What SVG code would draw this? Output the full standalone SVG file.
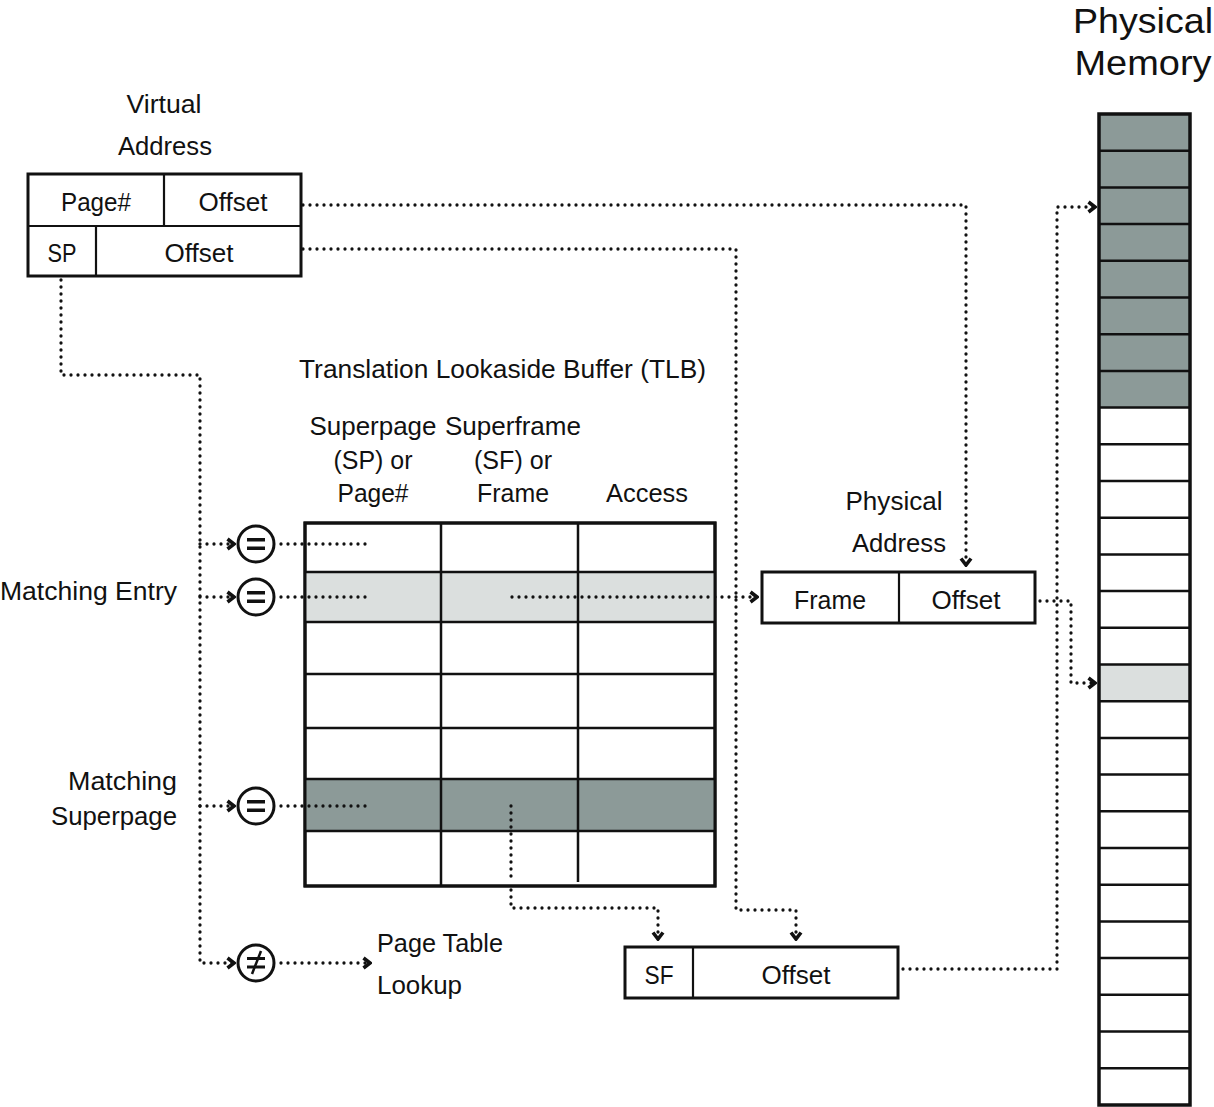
<svg xmlns="http://www.w3.org/2000/svg" width="1214" height="1107" viewBox="0 0 1214 1107">
<style>
text{font-family:"Liberation Sans Narrow","Liberation Sans",Arial,sans-serif;font-size:26px;fill:#111}
.big{font-family:"Liberation Sans",Arial,sans-serif;font-size:35px}
.box{fill:#fff;stroke:#111;stroke-width:3}
.div{stroke:#111;stroke-width:2.2;fill:none}
.dot{fill:none;stroke:#111;stroke-width:3.3;stroke-dasharray:0 7;stroke-linecap:round;stroke-linejoin:round}
.circ{fill:#fff;stroke:#111;stroke-width:3}
.bar{fill:#111}
</style>
<defs>
<marker id="ah" viewBox="-10 -8 12 16" refX="0" refY="0" markerWidth="12" markerHeight="16" markerUnits="userSpaceOnUse" orient="auto">
<path d="M-6.5,-5 L0,0 L-6.5,5" fill="none" stroke="#111" stroke-width="3.6"/>
</marker>
</defs>
<rect width="1214" height="1107" fill="#fff"/>

<g id="connectors">
<path class="dot" d="M303,205 H966 V565" marker-end="url(#ah)"/>
<path class="dot" d="M303,249 H736 V910 H796 V939" marker-end="url(#ah)"/>
<path class="dot" d="M61,280 V375 H200 V963 H234" marker-end="url(#ah)"/>
<path class="dot" d="M200,544 H234" marker-end="url(#ah)"/>
<path class="dot" d="M200,597 H234" marker-end="url(#ah)"/>
<path class="dot" d="M200,806 H234" marker-end="url(#ah)"/>
<path class="dot" d="M281,544 H372"/>
<path class="dot" d="M281,597 H372"/>
<path class="dot" d="M281,806 H372"/>
<path class="dot" d="M281,963 H370" marker-end="url(#ah)"/>
<path class="dot" d="M512,597 H757" marker-end="url(#ah)"/>
<path class="dot" d="M511,806 V908 H658 V939" marker-end="url(#ah)"/>
<path class="dot" d="M903,969 H1057 V207 H1095" marker-end="url(#ah)"/>
<path class="dot" d="M1040,601 H1071 V683 H1095" marker-end="url(#ah)"/>
</g>

<g id="virtual-address">
<text x="164" y="113" text-anchor="middle" textLength="75" lengthAdjust="spacingAndGlyphs">Virtual</text>
<text x="165" y="155" text-anchor="middle" textLength="94" lengthAdjust="spacingAndGlyphs">Address</text>
<rect class="box" x="28" y="174" width="273" height="102"/>
<line class="div" x1="28" y1="226" x2="301" y2="226"/>
<line class="div" x1="164" y1="174" x2="164" y2="226"/>
<line class="div" x1="96" y1="226" x2="96" y2="276"/>
<text x="96" y="211" text-anchor="middle" textLength="70" lengthAdjust="spacingAndGlyphs">Page#</text>
<text x="233" y="211" text-anchor="middle" textLength="69" lengthAdjust="spacingAndGlyphs">Offset</text>
<text x="62" y="262" text-anchor="middle" textLength="29" lengthAdjust="spacingAndGlyphs">SP</text>
<text x="199" y="262" text-anchor="middle" textLength="69" lengthAdjust="spacingAndGlyphs">Offset</text>
</g>

<g id="tlb">
<text x="299" y="378" textLength="407" lengthAdjust="spacingAndGlyphs">Translation Lookaside Buffer (TLB)</text>
<text x="373" y="435" text-anchor="middle" textLength="127" lengthAdjust="spacingAndGlyphs">Superpage</text>
<text x="373" y="469" text-anchor="middle" textLength="79" lengthAdjust="spacingAndGlyphs">(SP) or</text>
<text x="373" y="502" text-anchor="middle" textLength="71" lengthAdjust="spacingAndGlyphs">Page#</text>
<text x="513" y="435" text-anchor="middle" textLength="136" lengthAdjust="spacingAndGlyphs">Superframe</text>
<text x="513" y="469" text-anchor="middle" textLength="78" lengthAdjust="spacingAndGlyphs">(SF) or</text>
<text x="513" y="502" text-anchor="middle" textLength="72" lengthAdjust="spacingAndGlyphs">Frame</text>
<text x="647" y="502" text-anchor="middle" textLength="82" lengthAdjust="spacingAndGlyphs">Access</text>
<rect class="box" x="305" y="523" width="410" height="363"/>
<rect x="305" y="572" width="410" height="50" fill="#dbdfde"/>
<rect x="305" y="779" width="410" height="52" fill="#8c9a98"/>
<g class="div" style="stroke-width:2.5">
<line x1="305" y1="572" x2="715" y2="572"/>
<line x1="305" y1="622" x2="715" y2="622"/>
<line x1="305" y1="674" x2="715" y2="674"/>
<line x1="305" y1="728" x2="715" y2="728"/>
<line x1="305" y1="779" x2="715" y2="779"/>
<line x1="305" y1="831" x2="715" y2="831"/>
<line x1="441" y1="523" x2="441" y2="886"/>
<line x1="578" y1="523" x2="578" y2="882"/>
</g>
<rect x="305" y="523" width="410" height="363" fill="none" stroke="#111" stroke-width="3"/>
<path class="dot" d="M309,544 H372 M309,597 H372 M309,806 H372"/>
<path class="dot" d="M512,597 H712"/>
<path class="dot" d="M511,806 V883"/>
</g>

<g id="compare-1">
<circle class="circ" cx="256" cy="544" r="18"/>
<rect class="bar" x="247" y="538" width="18" height="3.5"/>
<rect class="bar" x="247" y="546.5" width="18" height="3.5"/>
</g>
<g id="compare-2">
<circle class="circ" cx="256" cy="597" r="18"/>
<rect class="bar" x="247" y="591" width="18" height="3.5"/>
<rect class="bar" x="247" y="599.5" width="18" height="3.5"/>
</g>
<g id="compare-3">
<circle class="circ" cx="256" cy="806" r="18"/>
<rect class="bar" x="247" y="800" width="18" height="3.5"/>
<rect class="bar" x="247" y="808.5" width="18" height="3.5"/>
</g>
<g id="compare-4">
<circle class="circ" cx="256" cy="963" r="18"/>
<rect class="bar" x="247" y="957" width="18" height="3"/>
<rect class="bar" x="247" y="965.5" width="18" height="3"/>
<line x1="252" y1="974" x2="261" y2="951" stroke="#111" stroke-width="2.5"/>
</g>

<g id="labels">
<text x="177" y="600" text-anchor="end" textLength="177" lengthAdjust="spacingAndGlyphs">Matching Entry</text>
<text x="177" y="790" text-anchor="end" textLength="109" lengthAdjust="spacingAndGlyphs">Matching</text>
<text x="177" y="825" text-anchor="end" textLength="126" lengthAdjust="spacingAndGlyphs">Superpage</text>
</g>

<g id="page-table-lookup">
<text x="377" y="952" textLength="126" lengthAdjust="spacingAndGlyphs">Page Table</text>
<text x="377" y="994" textLength="85" lengthAdjust="spacingAndGlyphs">Lookup</text>
</g>

<g id="physical-address">
<text x="894" y="510" text-anchor="middle" textLength="97" lengthAdjust="spacingAndGlyphs">Physical</text>
<text x="899" y="552" text-anchor="middle" textLength="94" lengthAdjust="spacingAndGlyphs">Address</text>
<rect class="box" x="762" y="572" width="273" height="51"/>
<line class="div" x1="899" y1="572" x2="899" y2="623"/>
<text x="830" y="609" text-anchor="middle" textLength="72" lengthAdjust="spacingAndGlyphs">Frame</text>
<text x="966" y="609" text-anchor="middle" textLength="69" lengthAdjust="spacingAndGlyphs">Offset</text>
</g>

<g id="superframe-address">
<rect class="box" x="625" y="947" width="273" height="51"/>
<line class="div" x1="693" y1="947" x2="693" y2="998"/>
<text x="659" y="984" text-anchor="middle" textLength="29" lengthAdjust="spacingAndGlyphs">SF</text>
<text x="796" y="984" text-anchor="middle" textLength="69" lengthAdjust="spacingAndGlyphs">Offset</text>
</g>

<g id="physical-memory">
<text class="big" x="1143" y="33" text-anchor="middle" textLength="140" lengthAdjust="spacingAndGlyphs">Physical</text>
<text class="big" x="1143" y="75" text-anchor="middle" textLength="137" lengthAdjust="spacingAndGlyphs">Memory</text>
<rect x="1099" y="114" width="91" height="991" fill="#fff"/>
<rect x="1099" y="114" width="91" height="293.6" fill="#8c9a98"/>
<rect x="1099" y="664.5" width="91" height="36.7" fill="#dbdfde"/>
<path class="div" style="stroke-width:2.5" d="M1099,150.7H1190M1099,187.4H1190M1099,224.1H1190M1099,260.8H1190M1099,297.5H1190M1099,334.2H1190M1099,370.9H1190M1099,407.6H1190M1099,444.3H1190M1099,481H1190M1099,517.7H1190M1099,554.4H1190M1099,591.1H1190M1099,627.8H1190M1099,664.5H1190M1099,701.2H1190M1099,737.9H1190M1099,774.6H1190M1099,811.3H1190M1099,848H1190M1099,884.7H1190M1099,921.4H1190M1099,958.1H1190M1099,994.8H1190M1099,1031.5H1190M1099,1068.2H1190"/>
<rect x="1099" y="114" width="91" height="991" fill="none" stroke="#111" stroke-width="3.5"/>
</g>
</svg>
